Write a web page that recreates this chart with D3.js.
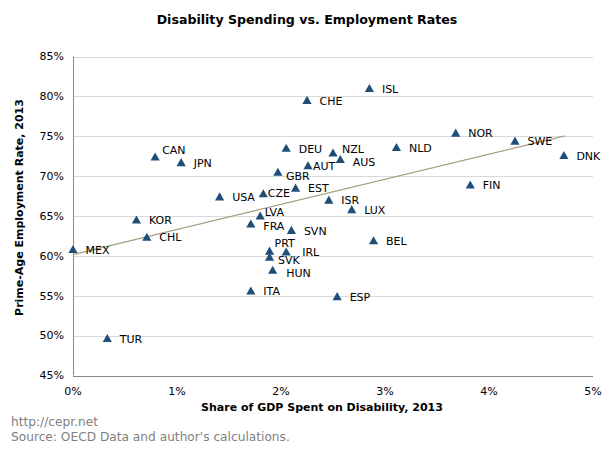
<!DOCTYPE html>
<html>
<head>
<meta charset="utf-8">
<script src="https://cdn.jsdelivr.net/npm/d3@7"></script>
<style>
  html, body { margin: 0; padding: 0; background: #fff; }
  svg { display: block; }
</style>
</head>
<body>
<svg id="chart" width="615" height="452"></svg>
<script>
// ---- Data ----
const countries = ["CAN","JPN","CHE","ISL","DEU","AUT","GBR","USA","CZE","EST","NZL","AUS","NLD","NOR","SWE","DNK","FIN","ISR","LUX","BEL","ESP","SVN","LVA","FRA","KOR","CHL","MEX","PRT","SVK","IRL","HUN","ITA","TUR"];
const spending = [0.79,1.04,2.25,2.85,2.05,2.26,1.97,1.41,1.83,2.14,2.50,2.57,3.11,3.68,4.25,4.72,3.82,2.46,2.68,2.89,2.54,2.10,1.80,1.71,0.61,0.71,0.00,1.89,1.89,2.05,1.92,1.71,0.33];
const employment = [72.4,71.7,79.5,81.0,73.5,71.3,70.5,67.4,67.8,68.5,72.9,72.1,73.6,75.4,74.4,72.6,68.9,67.0,65.8,61.9,54.9,63.2,65.0,64.0,64.5,62.35,60.8,60.6,59.85,60.5,58.2,55.6,49.65];
const trendX = [0, 4.73];
const trendY = [60.15, 75.05];
const xTicks = [0,1,2,3,4,5];
const yTicks = [45,50,55,60,65,70,75,80,85];

// label nudges (layout only)
const labelNudge = {
  CAN:[7,-6.5], AUT:[5,0.5], GBR:[8,4], CZE:[4.5,-0.5], NZL:[9,-3.8], AUS:[12.5,2.5], LVA:[4.5,-3.5],
  FRA:[12.5,2], PRT:[5,-8], SVK:[8.5,3.2], IRL:[16,0], HUN:[13.5,2.5]
};

const svg = d3.select("#chart");
const font = "'DejaVu Sans', Verdana, sans-serif";

const x = d3.scaleLinear().domain([0,5]).range([73,593]);
const y = d3.scaleLinear().domain([45,85]).range([375.5,56.5]);

// gridlines
svg.append("g").selectAll("line").data(yTicks.filter(d => d > 45)).join("line")
  .attr("x1", x(0)).attr("x2", x(5))
  .attr("y1", d => Math.round(y(d)) + 0.5).attr("y2", d => Math.round(y(d)) + 0.5)
  .attr("stroke", "#d9d9d9").attr("stroke-width", 1);

// axes lines
svg.append("line").attr("x1", x(0)+0.5).attr("x2", x(0)+0.5).attr("y1", y(85)).attr("y2", y(45))
  .attr("stroke", "#868686");
svg.append("line").attr("x1", x(0)).attr("x2", x(5)).attr("y1", Math.round(y(45))+0.5).attr("y2", Math.round(y(45))+0.5)
  .attr("stroke", "#868686");

// y tick labels
svg.append("g").selectAll("text").data(yTicks).join("text")
  .attr("x", 64).attr("y", d => y(d)).attr("dy", "0.35em")
  .attr("text-anchor", "end").attr("font-family", font).attr("font-size", 11).attr("fill", "#000")
  .text(d => d + "%");

// x tick labels
svg.append("g").selectAll("text").data(xTicks).join("text")
  .attr("x", d => x(d)).attr("y", 391).attr("dy", "0.35em")
  .attr("text-anchor", "middle").attr("font-family", font).attr("font-size", 11).attr("fill", "#000")
  .text(d => d + "%");

// trend line
const line = d3.line().x(d => x(d[0])).y(d => y(d[1]));
svg.append("path").attr("d", line(trendX.map((v,i) => [v, trendY[i]])))
  .attr("fill", "none").attr("stroke", "#a59f80").attr("stroke-width", 1.25);

// points
const pts = countries.map((c,i) => ({c, xv: spending[i], yv: employment[i]}));
const tri = "M0,-4.5L4.6,3.6L-4.6,3.6Z";
svg.append("g").selectAll("path").data(pts).join("path")
  .attr("d", tri)
  .attr("transform", d => `translate(${x(d.xv)},${y(d.yv)})`)
  .attr("fill", "#1f4e79");

svg.append("g").selectAll("text").data(pts).join("text")
  .attr("x", d => x(d.xv) + (labelNudge[d.c] ? labelNudge[d.c][0] : 12.5))
  .attr("y", d => y(d.yv) + (labelNudge[d.c] ? labelNudge[d.c][1] : 0.5))
  .attr("dy", "0.35em")
  .attr("font-family", font).attr("font-size", 11).attr("fill", "#000")
  .text(d => d.c);

// titles
svg.append("text").attr("x", 307).attr("y", 20).attr("dy", "0.35em").attr("text-anchor", "middle")
  .attr("font-family", font).attr("font-weight", "bold").attr("font-size", 12.6)
  .text("Disability Spending vs. Employment Rates");

svg.append("text").attr("x", 322).attr("y", 407).attr("dy", "0.35em").attr("text-anchor", "middle")
  .attr("font-family", font).attr("font-weight", "bold").attr("font-size", 11)
  .text("Share of GDP Spent on Disability, 2013");

svg.append("text").attr("transform", "translate(19,207.5) rotate(-90)").attr("dy", "0.35em")
  .attr("text-anchor", "middle")
  .attr("font-family", font).attr("font-weight", "bold").attr("font-size", 11)
  .text("Prime-Age Employment Rate, 2013");

svg.append("text").attr("x", 11).attr("y", 422).attr("dy", "0.35em")
  .attr("font-family", font).attr("font-size", 12.2).attr("fill", "#7f7f7f")
  .text("http://cepr.net");
svg.append("text").attr("x", 11).attr("y", 437).attr("dy", "0.35em")
  .attr("font-family", font).attr("font-size", 12.2).attr("fill", "#7f7f7f")
  .text("Source: OECD Data and author's calculations.");
</script>
</body>
</html>
